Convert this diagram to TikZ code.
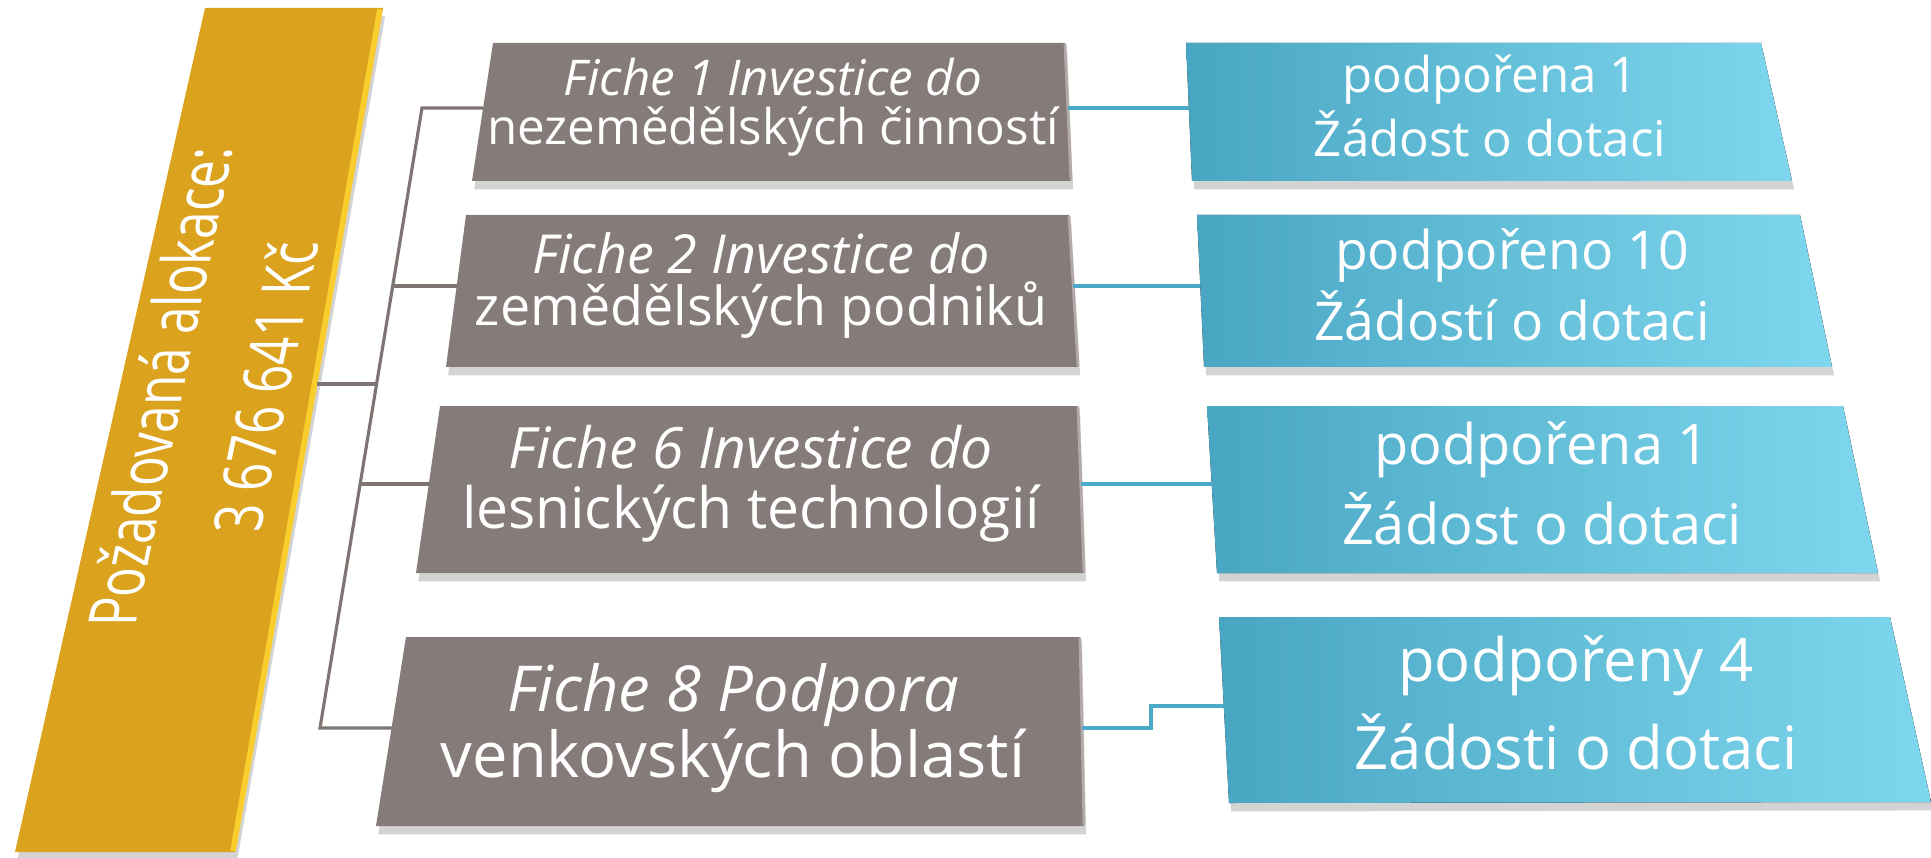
\documentclass[tikz,border=0pt]{standalone}
\usepackage{fontspec}
\setmainfont{Open Sans}
\usetikzlibrary{shadows}

\definecolor{gold}{HTML}{DBA21E}
\definecolor{goldedge}{HTML}{F8CD2C}
\definecolor{boxgray}{HTML}{857C79}
\definecolor{grayedge}{HTML}{B3AAA7}
\definecolor{blueleft}{HTML}{49A6C3}
\definecolor{blueright}{HTML}{7ED7EE}
\definecolor{linegray}{HTML}{7E7573}
\definecolor{lineblue}{HTML}{4AAAC7}

\tikzset{
  boxshadow/.style={drop shadow={opacity=0.35, shadow xshift=0.6pt, shadow yshift=-2.4pt}},
  graybox/.style={fill=boxgray, boxshadow},
  bluebox/.style={left color=blueleft, right color=blueright, boxshadow},
  boxtext/.style={text=white, align=center, inner sep=0pt},
  fs/.style 2 args={font=\fontsize{#1}{#2}\selectfont},
  grayline/.style={draw=linegray, line width=0.9pt},
  blueline/.style={draw=lineblue, line width=0.9pt}
}

\begin{document}
\begin{tikzpicture}[x=0.01cm, y=-0.01cm]
\useasboundingbox (0,0) rectangle (1931,858);

% allocation bar
\fill[fill=gold, boxshadow] (205,8) -- (383,8) -- (235,852) -- (15,852) -- cycle;
\draw[goldedge, line width=1.6pt] (380,9) -- (233,851);
\node[boxtext, xslant=0.205, rotate=90, xscale=0.74, fs={19}{30}] (alloc) at (212,387) {Požadovaná alokace:\\3 676 641 Kč};

% fiche boxes
\fill[graybox] (493,43) -- (1065,43) -- (1071,181) -- (472,181) -- cycle;
\fill[graybox] (466,215) -- (1069,215) -- (1078,367) -- (446,367) -- cycle;
\fill[graybox] (440,406) -- (1078,406) -- (1084,573) -- (416,573) -- cycle;
\fill[graybox] (406,637) -- (1080,637) -- (1084,826) -- (376,826) -- cycle;
\draw[grayedge, line width=0.8pt] (1065,44) -- (1071,180) (1069,216) -- (1078,366)
  (1078,407) -- (1084,572) (1080,638) -- (1084,825);

\node[boxtext, fs={14}{14}] (fiche1) at (773,107) {\textit{Fiche 1 Investice do}\\nezemědělských činností};
\node[boxtext, fs={15.3}{14.8}] (fiche2) at (761,286) {\textit{Fiche 2 Investice do}\\zemědělských podniků};
\node[boxtext, fs={16.2}{17}] (fiche6) at (751,484) {\textit{Fiche 6 Investice do}\\lesnických technologií};
\node[boxtext, fs={18}{18.8}] (fiche8) at (733,728) {\textit{Fiche 8 Podpora}\\venkovských oblastí};

% result boxes
\fill[bluebox] (1186,43) -- (1761,43) -- (1792,181) -- (1192,181) -- cycle;
\fill[bluebox] (1197,215) -- (1800,215) -- (1832,367) -- (1204,367) -- cycle;
\fill[bluebox] (1207,406) -- (1843,406) -- (1878,573) -- (1217,573) -- cycle;
\fill[bluebox] (1219,617) -- (1890,617) -- (1931,802) -- (1229,803) -- cycle;

\node[boxtext, fs={14}{18}] (res1) at (1490,106) {podpořena 1\\Žádost o dotaci};
\node[boxtext, fs={15.2}{20.2}] (res2) at (1512,285) {podpořeno 10\\Žádostí o dotaci};
\node[boxtext, fs={15.9}{22.8}] (res6) at (1542,483) {podpořena 1\\Žádost o dotaci};
\node[boxtext, fs={17}{25}] (res8) at (1576,703) {podpořeny 4\\Žádosti o dotaci};

% tree connectors
\coordinate (barR) at (317,384);
\coordinate (trunkTop) at (422,108);
\coordinate (trunkBot) at (320,728);
\coordinate (trunkMid) at (377,384);
\coordinate (t2) at (393,286);
\coordinate (t6) at (360,484);
\coordinate (f1W) at (483,108);
\coordinate (f2W) at (457,286);
\coordinate (f6W) at (429,484);
\coordinate (f8W) at (392,728);
\draw[grayline] (barR) -- (trunkMid);
\draw[grayline] (f1W) -- (trunkTop) -- (trunkBot) -- (f8W);
\draw[grayline] (t2) -- (f2W);
\draw[grayline] (t6) -- (f6W);

\coordinate (f1E) at (1068,108);
\coordinate (f2E) at (1073,286);
\coordinate (f6E) at (1081,484);
\coordinate (f8E) at (1082,728);
\coordinate (r1W) at (1189,108);
\coordinate (r2W) at (1200,286);
\coordinate (r6W) at (1212,484);
\coordinate (r8W) at (1224,706);
\draw[blueline] (f1E) -- (r1W);
\draw[blueline] (f2E) -- (r2W);
\draw[blueline] (f6E) -- (r6W);
\draw[blueline] (f8E) -- (1151,728) -- (1151,706) -- (r8W);
\end{tikzpicture}
\end{document}
